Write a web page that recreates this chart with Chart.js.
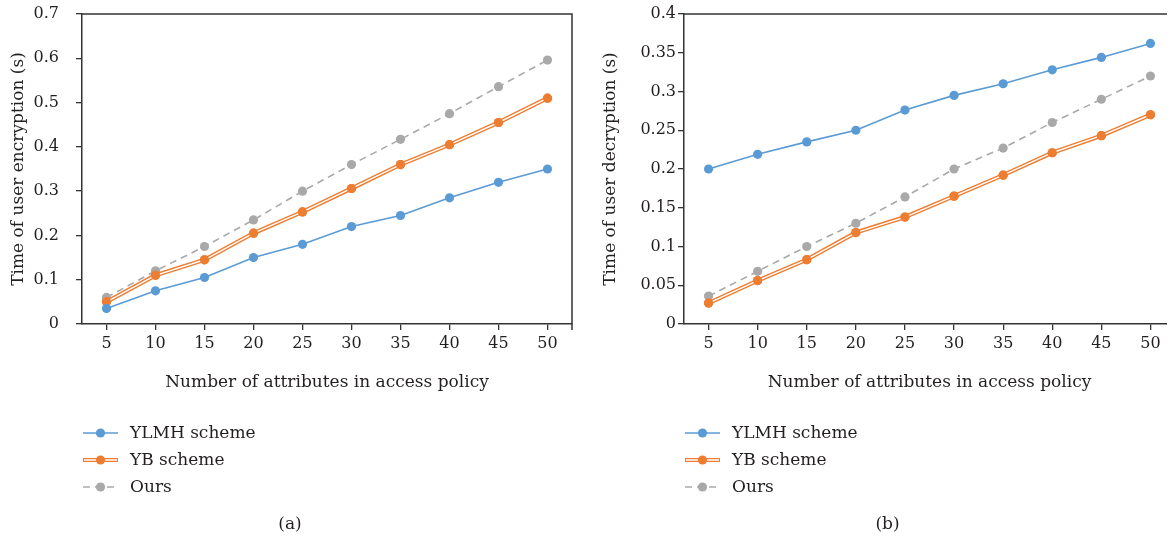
<!DOCTYPE html>
<html>
<head>
<meta charset="utf-8">
<title>User encryption / decryption time</title>
<script src="https://cdn.jsdelivr.net/npm/chart.js@4.4.1/dist/chart.umd.min.js"></script>
<style>
  html, body { margin: 0; padding: 0; background: #fff; overflow: hidden; }
  body { width: 1171px; height: 542px; position: relative; }
  .panel { position: absolute; top: 0; height: 542px; overflow: hidden; }
  #panelA { left: 0; width: 585px; }
  #panelB { left: 592px; width: 575px; }
  canvas { display: block; }
</style>
</head>
<body>
<div class="panel" id="panelA"><canvas id="chartA" width="585" height="542"></canvas></div>
<div class="panel" id="panelB"><canvas id="chartB" width="620" height="542"></canvas></div>
<script>
// x categories (number of attributes in the access policy)
const attrCounts = [5, 10, 15, 20, 25, 30, 35, 40, 45, 50];

// (a) time of user encryption, seconds
const encYlmh = [0.035, 0.075, 0.105, 0.15, 0.18, 0.22, 0.245, 0.285, 0.32, 0.35];
const encYb = [0.05, 0.11, 0.145, 0.205, 0.253, 0.306, 0.36, 0.405, 0.455, 0.51];
const encOurs = [0.06, 0.12, 0.175, 0.235, 0.3, 0.36, 0.417, 0.475, 0.536, 0.596];
const encTicks = [0, 0.1, 0.2, 0.3, 0.4, 0.5, 0.6, 0.7];

// (b) time of user decryption, seconds
const decYlmh = [0.2, 0.219, 0.235, 0.25, 0.276, 0.295, 0.31, 0.328, 0.344, 0.362];
const decYb = [0.027, 0.056, 0.083, 0.118, 0.138, 0.165, 0.192, 0.221, 0.243, 0.27];
const decOurs = [0.036, 0.068, 0.1, 0.13, 0.164, 0.2, 0.227, 0.26, 0.29, 0.32];
const decTicks = [0, 0.05, 0.1, 0.15, 0.2, 0.25, 0.3, 0.35, 0.4];

const seriesNames = ["YLMH scheme", "YB scheme", "Ours"];

const FONT = "'DejaVu Serif', 'Liberation Serif', serif";
const TEXT = "#231f20";
const AXIS = "#333333";
const BLUE = "#5b9bd5";
const ORANGE = "#ed7d31";
const GRAY = "#a9a9a9";

// YB scheme is drawn as a hollow (double) line: orange stroke with a white core
const doubleLine = {
  id: "doubleLine",
  afterDatasetDraw(chart, args) {
    const ds = chart.data.datasets[args.index];
    if (!ds.double) return;
    const { ctx } = chart;
    const meta = args.meta;
    ctx.save();
    ctx.beginPath();
    meta.dataset.path(ctx);
    ctx.strokeStyle = "#fff";
    ctx.lineWidth = 1.4;
    ctx.stroke();
    ctx.restore();
    // put the dots back on top of the white core
    meta.data.forEach((pt) => pt.draw(ctx, chart.chartArea));
  },
};

// top (+ right, when not cut off) frame lines of the plot box
const frameBox = {
  id: "frameBox",
  afterDraw(chart, args, pluginOpts) {
    const { ctx, chartArea: a } = chart;
    ctx.save();
    ctx.strokeStyle = AXIS;
    ctx.lineWidth = 1.5;
    ctx.beginPath();
    ctx.moveTo(a.left, a.top);
    ctx.lineTo(a.right, a.top);
    if (pluginOpts.right) ctx.lineTo(a.right, a.bottom + 6);
    ctx.stroke();
    ctx.restore();
  },
};

// stacked legend under the x axis title, aligned with the plot's left edge
const rowLegend = {
  id: "rowLegend",
  afterDraw(chart) {
    const { ctx, chartArea } = chart;
    chart.data.datasets.forEach((ds, i) => {
      const y = chartArea.bottom + 109 + i * 27;
      const x0 = chartArea.left + 1;
      const x1 = x0 + 35;
      ctx.save();
      ctx.beginPath();
      ctx.moveTo(x0, y);
      ctx.lineTo(x1, y);
      ctx.strokeStyle = ds.borderColor;
      ctx.lineWidth = ds.borderWidth;
      ctx.setLineDash(ds.borderDash || []);
      ctx.stroke();
      if (ds.double) {
        ctx.beginPath();
        ctx.moveTo(x0 + 1, y);
        ctx.lineTo(x1 - 1, y);
        ctx.strokeStyle = "#fff";
        ctx.lineWidth = 1.4;
        ctx.stroke();
      }
      ctx.setLineDash([]);
      ctx.beginPath();
      ctx.arc((x0 + x1) / 2, y, ds.pointRadius, 0, Math.PI * 2);
      ctx.fillStyle = ds.pointBackgroundColor;
      ctx.fill();
      ctx.fillStyle = TEXT;
      ctx.font = "17px " + FONT;
      ctx.textBaseline = "middle";
      ctx.textAlign = "left";
      ctx.fillText(ds.label, x0 + 47, y + 1);
      ctx.restore();
    });
  },
};

function makeDatasets(ylmh, yb, ours) {
  const base = { pointRadius: 4.6, pointHoverRadius: 4.6, pointBorderWidth: 0, tension: 0 };
  return [
    { ...base, label: seriesNames[0], data: ylmh, borderColor: BLUE, backgroundColor: BLUE, pointBackgroundColor: BLUE, borderWidth: 1.6 },
    { ...base, label: seriesNames[1], data: yb, borderColor: ORANGE, backgroundColor: ORANGE, pointBackgroundColor: ORANGE, borderWidth: 4.2, double: true },
    { ...base, label: seriesNames[2], data: ours, borderColor: GRAY, backgroundColor: GRAY, pointBackgroundColor: GRAY, borderWidth: 1.6, borderDash: [7, 5] },
  ];
}

function makeConfig(opts) {
  return {
    type: "line",
    data: { labels: attrCounts, datasets: makeDatasets(...opts.series) },
    plugins: [doubleLine, frameBox, rowLegend],
    options: {
      responsive: false,
      animation: false,
      devicePixelRatio: 1,
      layout: { padding: { top: 14, left: 8, right: opts.padRight, bottom: 0 } },
      plugins: {
        legend: { display: false },
        tooltip: { enabled: false },
        frameBox: { right: opts.rightEdge },
        title: {
          display: true,
          position: "bottom",
          text: opts.caption,
          color: TEXT,
          font: { family: FONT, size: 17, weight: "normal" },
          padding: { top: 122, bottom: 7 },
        },
      },
      scales: {
        x: {
          type: "category",
          offset: true,
          grid: { drawOnChartArea: false, drawTicks: true, tickLength: 6, color: AXIS, lineWidth: 1.3, offset: false },
          border: { display: true, color: AXIS, width: 1.5 },
          ticks: { color: TEXT, font: { family: FONT, size: 16 }, padding: 4, maxRotation: 0, autoSkip: false },
          title: {
            display: true,
            text: "Number of attributes in access policy",
            color: TEXT,
            font: { family: FONT, size: 17 },
            padding: { top: 15, bottom: 0 },
          },
        },
        y: {
          min: 0,
          max: opts.yMax,
          afterBuildTicks: (axis) => {
            axis.ticks = opts.yTicks.map((v) => ({ value: v }));
          },
          afterFit: (axis) => {
            axis.width = opts.axisWidth;
            // label padding should not push the plot top down
            axis.paddingTop = Math.min(axis.paddingTop, 10);
            axis.paddingBottom = Math.min(axis.paddingBottom, 10);
          },
          grid: { drawOnChartArea: false, drawTicks: true, tickLength: 6, color: AXIS, lineWidth: 1.3 },
          border: { display: true, color: AXIS, width: 1.5 },
          ticks: {
            color: TEXT,
            font: { family: FONT, size: 16 },
            padding: opts.tickPad,
            callback: (v) => String(v),
          },
          title: {
            display: true,
            text: opts.yTitle,
            color: TEXT,
            font: { family: FONT, size: 17 },
            padding: { top: 0, bottom: 0 },
          },
        },
      },
    },
  };
}

new Chart(document.getElementById("chartA"), makeConfig({
  series: [encYlmh, encYb, encOurs],
  yTicks: encTicks,
  yMax: 0.7,
  yTitle: "Time of user encryption (s)",
  caption: "(a)",
  padRight: 13,
  axisWidth: 74,
  tickPad: 17,
  rightEdge: true,
}));

// the right panel is cut off by the page edge, so its box shows no right side
new Chart(document.getElementById("chartB"), makeConfig({
  series: [decYlmh, decYb, decOurs],
  yTicks: decTicks,
  yMax: 0.4,
  yTitle: "Time of user decryption (s)",
  caption: "(b)",
  padRight: 37,
  axisWidth: 84,
  tickPad: 2,
  rightEdge: false,
}));
</script>
</body>
</html>
